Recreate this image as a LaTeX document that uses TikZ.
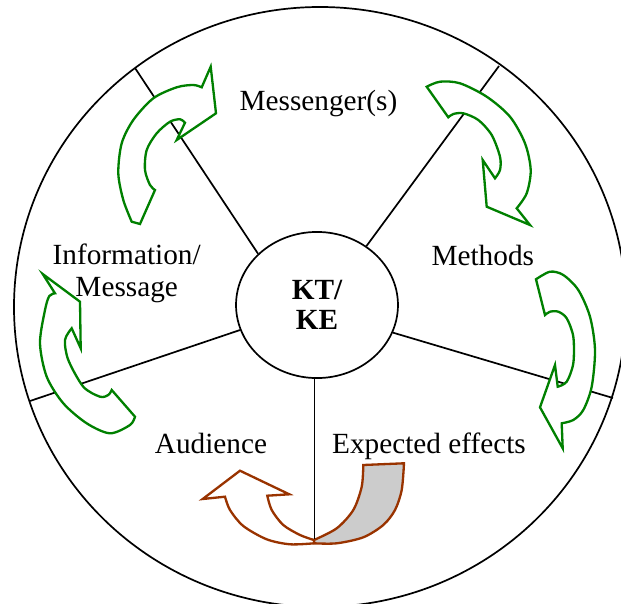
\documentclass[tikz,border=0pt]{standalone}
\usepackage{fontspec}
\setmainfont{Liberation Serif}
\usetikzlibrary{shapes.geometric}
\definecolor{arrowgreen}{RGB}{0,128,0}
\definecolor{arrowbrown}{RGB}{153,51,0}

\begin{document}
\begin{tikzpicture}[x=4.1pt, y=4.1pt,
    every node/.style={font=\fontsize{12}{14}\selectfont},
    divider/.style={line width=0.7pt},
    greenarrow/.style={draw=arrowgreen, line width=0.95pt, fill=white},
    brownarrow/.style={draw=arrowbrown, line width=0.95pt, fill=white}]
    \clip (0,0) rectangle (62.1,60.3);
    \draw[divider] (32,29.6) ellipse [x radius=30.6, y radius=30];

    \node[draw, ellipse, divider, minimum width=66.4pt, minimum height=59.9pt, inner sep=0pt,
        align=center, font=\bfseries\fontsize{12}{12.3}\selectfont] (kt) at (31.7,29.8) {KT/\\KE};

    \draw[brownarrow, fill=gray!40] (31.4,6.3)
        -- plot[smooth] coordinates {(31.4,6.3) (33.67,7.47) (35.33,9.3) (36.17,11.63) (36.33,13.8)}
        -- (40.4,13.97)
        -- plot[smooth] coordinates {(40.4,13.97) (40.17,11.3) (39.5,9.3) (38.33,7.8) (36.33,6.57) (33.67,5.97) (31.4,5.97)}
        -- cycle;
    \draw[brownarrow] (24.0,13.23) -- (28.93,10.87) -- (26.73,10.73)
        -- plot[smooth] coordinates {(26.73,10.73) (27.17,9.3) (28.33,7.8) (30.0,6.8) (31.4,6.3)}
        -- (31.4,5.97)
        -- plot[smooth] coordinates {(31.4,5.97) (29.0,5.87) (26.67,6.37) (24.33,7.7) (23.0,9.3) (22.5,10.63)}
        -- (20.27,10.4) -- cycle;

    \draw[divider] (kt.139) -- (13.5,53.5);
    \draw[divider] (kt.50) -- (49.9,53.7);
    \draw[divider] (kt.-20) -- (61.3,20.5);
    \draw[divider] (kt.-92) -- ++(0,-16);
    \draw[divider] (kt.198) -- (3.0,20.2);

    \draw[greenarrow] (14.0,37.9) -- (13.17,38.13)
        -- plot[smooth] coordinates {(13.17,38.13) (12.33,40.3) (11.83,42.97) (12.17,45.97) (13.33,48.3) (15.33,50.47) (17.67,51.57) (19.33,51.8) (20.17,51.57)}
        -- (21.07,53.63) -- (21.6,48.97) -- (17.67,46.3) -- (18.5,48.03)
        -- plot[smooth] coordinates {(18.5,48.03) (18.0,48.37) (17.0,48.13) (15.67,46.97) (14.67,45.3) (14.5,43.3) (15.0,41.8) (15.5,41.3)}
        -- cycle;
    \draw[greenarrow] (42.67,51.63) -- (44.83,48.57)
        -- plot[smooth] coordinates {(44.83,48.57) (45.33,48.9) (46.33,48.97) (47.83,48.3) (49.17,46.8) (50.0,44.63) (50.0,43.3) (49.5,42.47)}
        -- (48.27,44.3) -- (48.67,39.63) -- (53.0,37.8) -- (51.67,39.47)
        -- plot[smooth] coordinates {(51.67,39.47) (52.67,40.97) (53.07,43.3) (52.5,45.97) (51.0,48.63) (48.67,50.63) (46.0,51.97) (44.0,52.13) (42.67,51.63)}
        -- cycle;
    \draw[greenarrow] (53.6,32.37)
        -- plot[smooth] coordinates {(53.6,32.37) (55.0,33.13) (56.33,32.8) (57.83,31.3) (59.0,28.63) (59.5,25.3) (59.17,21.63) (58.33,19.3) (57.33,18.3) (56.17,17.97)}
        -- (56.27,15.47) -- (54.0,19.57) -- (55.5,23.8) -- (55.77,21.63)
        -- plot[smooth] coordinates {(55.77,21.63) (56.67,22.13) (57.33,23.97) (57.33,26.63) (56.67,28.47) (55.83,29.13) (55.0,29.13) (54.5,28.8)}
        -- cycle;
    \draw[greenarrow] (4.27,32.9) -- (8.0,30.13) -- (8.07,25.47) -- (7.17,27.47)
        -- plot[smooth] coordinates {(7.17,27.47) (6.5,26.3) (6.83,24.3) (8.33,21.63) (10.0,20.63) (10.83,20.8) (11.17,21.3)}
        -- (13.5,18.63)
        -- plot[smooth] coordinates {(13.5,18.63) (13.0,17.8) (11.0,16.97) (8.67,17.97) (6.33,19.97) (4.67,22.63) (4.0,25.97) (4.5,29.3) (4.93,30.7) (5.5,30.97)}
        -- cycle;

    \node[anchor=base] (messenger) at (31.85,49.3) {Messenger(s)};
    \node[anchor=base] (methods) at (48.28,33.8) {Methods};
    \node[align=center, font=\fontsize{12}{13.1}\selectfont] (info) at (12.67,33.0) {Information/\\Message};
    \node[anchor=base] (audience) at (21.1,15.0) {Audience};
    \node[anchor=base] (effects) at (42.9,15.0) {Expected effects};
\end{tikzpicture}
\end{document}
